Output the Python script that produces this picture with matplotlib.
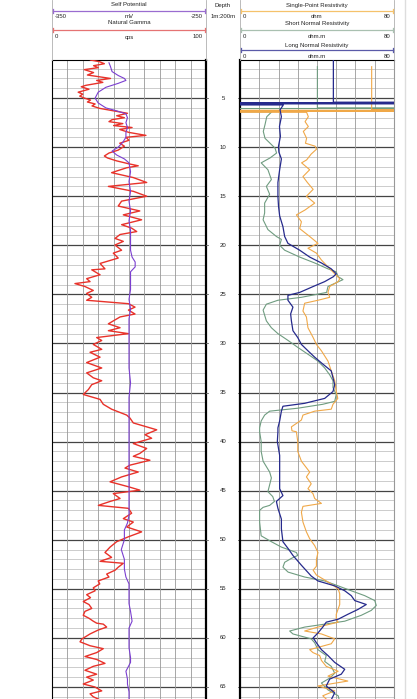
import numpy as np
import matplotlib
matplotlib.use("Agg")
from matplotlib import pyplot as plt
from matplotlib.lines import Line2D

plt.rcParams['font.family'] = ['Liberation Sans', 'DejaVu Sans']

W, H = 417, 699

# depth range shown (m)
top_depth, bottom_depth = 1.12, 66.33
depth_ticks = [5, 10, 15, 20, 25, 30, 35, 40, 45, 50, 55, 60, 65]

# Natural gamma (depth m, cps)
gamma = [(1.12, 25), (1.3, 31), (1.5, 34), (1.7, 27), (1.9, 30), (2.1, 21), (2.4, 27), (2.65, 23),
         (3.0, 38), (3.2, 29), (3.4, 33), (3.7, 22), (3.85, 19), (4.1, 24), (4.4, 17), (4.6, 20),
         (4.8, 18), (5.0, 21), (5.2, 25), (5.4, 23), (5.6, 28), (5.8, 26), (6.05, 31), (6.3, 40),
         (6.55, 49), (6.8, 42), (7.0, 47), (7.2, 39), (7.4, 37), (7.6, 46), (7.8, 40), (8.0, 52),
         (8.2, 44), (8.5, 50), (8.8, 61), (9.0, 48), (9.3, 50), (9.6, 44), (9.9, 47), (10.3, 43),
         (10.6, 37), (10.9, 34), (11.1, 36), (11.4, 42), (11.7, 50), (11.9, 56), (12.1, 48.5),
         (12.6, 38.7), (13.1, 52.8), (13.6, 61.5), (14.0, 36.6), (14.5, 52.8), (15.0, 61.5),
         (15.5, 45.2), (16.0, 43), (16.5, 57), (16.9, 46.3), (17.4, 58.2), (17.9, 45.2),
         (18.25, 51.7), (18.6, 55), (18.9, 44.2), (19.3, 40.9), (19.6, 46.3), (19.97, 40.9),
         (20.5, 45.2), (20.8, 39.8), (21.3, 43), (21.85, 31.2), (22.4, 34.4), (22.5, 25.8),
         (23.0, 31.2), (23.4, 22.5), (23.7, 24.7), (23.9, 14.9), (24.2, 21.4), (24.6, 26.8),
         (24.9, 22.5), (25.3, 25.8), (25.6, 22.5), (25.95, 49.6), (26.3, 53.9), (26.6, 49.6),
         (27.0, 53.9), (27.3, 44.2), (27.7, 39.8), (28.0, 36.6), (28.4, 44.2), (28.7, 36.6),
         (29.0, 49.6), (29.4, 29), (29.7, 32.3), (30.1, 26.8), (30.6, 32.3), (30.9, 24.7),
         (31.4, 31.2), (31.95, 22.5), (32.5, 32.3), (33.0, 22.5), (33.5, 26.8), (33.8, 32.3),
         (34.2, 25.8), (34.7, 23.6), (35.2, 20.3), (35.7, 31.2), (36.2, 33.3), (36.7, 38.7),
         (37.3, 48.5), (37.6, 50.6), (38.1, 52.8), (38.8, 68), (39.3, 60.4), (39.66, 64.7),
         (40.2, 52.8), (40.7, 61.5), (41.2, 57.1), (41.5, 52.8), (41.9, 63.6), (42.4, 50.6),
         (42.7, 47.4), (43.1, 56), (43.6, 45.2), (44.1, 37.7), (44.6, 49.6), (44.95, 57.1),
         (45.3, 39.8), (45.8, 44.2), (46.1, 37.7), (46.5, 30.1), (46.8, 49.6), (47.3, 51.7),
         (47.85, 46.3), (48.2, 52.8), (48.7, 48.5), (49.2, 58.2), (49.7, 49.6), (50.2, 42),
         (50.75, 37.7), (51.3, 34.4), (51.8, 38.7), (52.2, 31.2), (52.4, 46.3), (52.8, 43),
         (53.1, 41), (53.5, 35.5), (53.8, 37), (54.2, 30), (54.5, 31), (54.9, 26.8), (55.2, 28),
         (55.6, 22.5), (55.9, 25), (56.3, 20.3), (56.6, 24), (57.0, 25.8), (57.3, 21.4),
         (57.7, 20.3), (58.0, 24), (58.3, 26.8), (58.5, 29), (58.6, 33.3), (58.9, 35.5),
         (59.2, 30), (59.6, 24.7), (60.1, 19.5), (60.4, 18.2), (60.8, 24.7), (61.1, 33.3),
         (61.5, 29), (61.9, 21.4), (62.2, 29), (62.6, 34.4), (62.9, 26.8), (63.3, 21.4),
         (63.7, 29), (64.0, 22.5), (64.3, 26.8), (64.7, 20.3), (65.0, 27.8), (65.4, 32.3),
         (65.7, 24.7), (66.0, 26.8), (66.4, 32.3)]

# Self potential (depth m, mV)
self_potential = [(1.4, -313), (1.8, -312), (2.3, -311), (2.7, -307), (3.0, -303), (3.2, -302),
                  (3.5, -307), (3.9, -315), (4.4, -320), (5.0, -322), (5.5, -320), (6.0, -315),
                  (6.3, -308), (6.6, -302), (7.0, -301), (7.5, -302), (8.0, -301), (8.5, -302),
                  (9.0, -302), (9.5, -304), (10.0, -307), (10.4, -311), (10.8, -308), (11.2, -303),
                  (11.6, -300), (12.5, -299), (13.5, -300), (14.5, -299), (15.5, -300), (16.5, -299),
                  (17.5, -300), (18.5, -299), (19.5, -299), (20.5, -299), (21.2, -298), (21.7, -296),
                  (22.2, -296), (22.7, -299), (23.5, -299), (24.5, -299), (25.5, -300), (26.5, -299),
                  (27.5, -300), (28.5, -300), (29.5, -300), (31, -300), (32.5, -300), (34, -299),
                  (35.5, -300), (37, -300), (38.5, -300), (40, -300), (41.5, -300), (43, -300),
                  (44.5, -300), (46, -300), (47.5, -300), (48.3, -301), (49, -303), (50, -303),
                  (51, -305), (52, -303), (53, -303), (53.8, -302), (54.5, -300), (55.5, -300),
                  (56.5, -300), (57.3, -299), (58.3, -298), (59, -300), (60, -300), (61, -300),
                  (62, -299), (62.5, -299), (63.4, -302), (64.2, -301), (64.7, -301), (65.5, -300),
                  (66.3, -300)]

# Single-point resistivity (depth m, ohm); the +/-1000 values are the off-scale spikes near the top
single_point = [(1.8, 68.4), (6.2, 68.4), (6.22, 1000), (6.27, -1000), (6.32, 1000), (6.37, -1000),
                (6.45, 34.6), (6.9, 35.5), (7.4, 33.8), (7.9, 35.5), (8.4, 32.9), (9.1, 34.6),
                (9.6, 34), (9.9, 39), (10.2, 39.8), (10.7, 37), (11.3, 34.6), (11.6, 32), (12.3, 36.2),
                (13, 32.7), (13.6, 35), (14.3, 38), (15, 34.5), (15.7, 38.8), (16.4, 33.8), (16.9, 29.3),
                (17.6, 31.9), (18.3, 31), (19.1, 36.2), (19.8, 40.5), (20.3, 35.3), (20.8, 39.7),
                (21.5, 42.3), (22.2, 45.7), (22.9, 49.2), (23.4, 51.8), (23.7, 51), (24.2, 46.6),
                (24.8, 45.7), (25.3, 46.6), (25.6, 40.5), (25.9, 33.6), (26.7, 32.7), (27.3, 34.5),
                (28.4, 35.3), (29.4, 38), (30.1, 39.7), (30.75, 42.3), (31.8, 45.7), (32.8, 47.4),
                (33.8, 49.2), (34.9, 50), (35.6, 50.8), (36.2, 48.3), (36.7, 47.4), (36.9, 38.8),
                (37.3, 32.7), (37.8, 31.9), (38.5, 26.7), (38.9, 27), (39, 29.3), (40, 30), (41, 30),
                (42, 31.9), (43.1, 36.2), (43.6, 34.5), (44.3, 37), (44.8, 35.3), (45.3, 37.9),
                (45.8, 38.8), (46.3, 42.3), (46.6, 32.7), (47.2, 31.9), (48.2, 32.7), (49.2, 34.5),
                (49.9, 36.2), (50.6, 38.8), (51.3, 40.5), (52, 39.7), (52.7, 39.7), (53.1, 38),
                (53.6, 39.7), (54.3, 45.7), (55, 51), (55.5, 51.8), (56.6, 51.8), (57.6, 50), (58.1, 50),
                (58.4, 51), (58.9, 40.5), (59.3, 33.6), (59.6, 42.3), (60.1, 49.2), (60.6, 47.4),
                (61.2, 36.2), (61.5, 37.9), (61.8, 41.4), (62.3, 42.3), (62.9, 44.8), (63.4, 51),
                (63.9, 45.7), (64.4, 56), (64.9, 40.5), (65.4, 49.2), (65.9, 43), (66.4, 45.7)]

# Short normal resistivity (depth m, ohm.m)
short_normal = [(1.8, 40.2), (6.0, 40.2), (6.03, 1000), (6.1, -1000), (6.4, 16.5), (6.9, 13.9),
                (7.7, 13), (8.4, 12.1), (9.1, 13), (9.6, 15.6), (10.1, 18.2), (10.6, 19), (11.1, 15.6),
                (11.6, 11), (12.3, 14.5), (13.3, 16.3), (14, 13.7), (14.8, 15.4), (15.7, 12.8),
                (16.7, 12.8), (17.4, 12), (18.4, 14.5), (19.1, 18.9), (19.4, 21.5), (20, 20.6),
                (20.5, 23.2), (21.2, 31), (21.8, 38.8), (22.4, 45.7), (22.7, 50), (23.2, 51),
                (23.5, 53.5), (23.9, 49), (24.2, 45.7), (24.8, 45), (25.3, 31.9), (25.6, 19.7),
                (26, 13.7), (26.6, 12), (27.7, 13.7), (28.4, 16.3), (29, 19.7), (29.7, 25), (30.4, 30),
                (31.1, 35.3), (31.8, 40.5), (32.5, 44), (33.2, 46.6), (33.8, 48.3), (34.5, 48.3),
                (35.2, 50), (35.9, 49.2), (36.2, 43), (36.6, 30), (36.9, 15.4), (37.3, 12.8),
                (37.9, 11), (38.6, 10.2), (39, 10.2), (40, 11), (41, 11), (42, 12), (43.1, 15.4),
                (43.7, 16.3), (44.4, 15.4), (45.1, 14.5), (45.6, 17), (46.1, 17.9), (46.5, 15.4),
                (46.7, 12), (47, 10.2), (48.2, 10.2), (49.6, 11), (50.2, 16.3), (50.75, 21.5),
                (51.3, 29.3), (51.6, 30), (51.9, 26.7), (52.3, 23.2), (52.8, 22.3), (53.3, 25),
                (53.8, 33.6), (54.2, 44), (54.7, 51), (55.2, 57.8), (55.7, 64.8), (56.2, 70),
                (56.7, 70.8), (57.2, 68.2), (57.7, 63), (58.3, 54.4), (58.6, 44), (58.9, 33.6),
                (59.3, 25.8), (59.6, 27.5), (60.1, 37), (60.5, 38.8), (61.2, 40.5), (61.8, 44.8),
                (62.4, 44), (62.9, 47.4), (63.6, 49.2), (64.1, 46.6), (64.6, 42.3), (65.3, 45.7),
                (65.9, 51), (66.5, 51.8)]

# Long normal resistivity (depth m, ohm.m)
long_normal = [(1.12, 48.5), (5.42, 48.5), (5.44, 1000), (5.5, -1000), (5.56, 1000), (5.62, -1000),
               (5.7, 22.5), (6.2, 20.8), (6.9, 21.5), (7.9, 20.5), (8.9, 21), (9.9, 20), (10.5, 20.2),
               (11.2, 21.5), (12.3, 20.6), (13.6, 19.7), (15, 19.7), (16, 20), (17, 20.6), (18.1, 22.3),
               (19.1, 23.2), (19.8, 24.9), (20.5, 31), (21.2, 36.2), (21.8, 42.3), (22.4, 47.4),
               (22.9, 50), (23.2, 48.5), (23.7, 44), (24.2, 38), (24.8, 31), (25.1, 24.9), (25.6, 24.9),
               (26.3, 27.5), (27, 26.3), (27.7, 26.7), (28.7, 27.5), (29.4, 30), (30.1, 31.9),
               (30.75, 35.3), (31.4, 38.8), (32.1, 43), (32.8, 47.4), (33.5, 48.3), (34.2, 49.2),
               (34.9, 48.3), (35.6, 44), (36.1, 33.6), (36.4, 22.3), (36.9, 21.5), (37.9, 20.6),
               (38.6, 19.7), (39, 19.7), (40, 19.4), (41.4, 20.6), (43.1, 20.6), (44.8, 20.6),
               (45.5, 22.3), (46.1, 18.9), (46.8, 19.7), (47.9, 21.5), (48.9, 21.5), (50.2, 22.3),
               (50.9, 25), (51.6, 27.5), (52.6, 31.9), (53.7, 37), (54.2, 40.5), (54.7, 49.2),
               (55.2, 54.4), (55.7, 57.8), (56.2, 59.6), (56.6, 65.6), (57.1, 61.3), (57.6, 56),
               (58.1, 51), (58.4, 44.8), (58.9, 43), (59.5, 40.5), (60, 38), (60.5, 39.7), (61.2, 42.3),
               (61.8, 45.7), (62.5, 49.2), (63.2, 54.4), (63.7, 52.6), (64.2, 46.6), (64.9, 44.8),
               (65.6, 49.2), (66.3, 47.4)]


def px_axes(fig, x0, y0, x1, y1):
  # axes placed by pixel box (top-left origin)
  return fig.add_axes([x0 / W, 1 - y1 / H, (x1 - x0) / W, (y1 - y0) / H])


def fig_text(fig, x, y, s, ha='center', size=4.3):
  fig.text(x / W, 1 - y / H, s, ha=ha, va='center', fontsize=size, color='#222222')


def header_line(fig, x0, x1, y, color):
  fig.add_artist(Line2D([x0 / W, x1 / W], [1 - y / H, 1 - y / H], color=color, lw=0.9))
  for xx in (x0, x1):
    fig.add_artist(Line2D([xx / W, xx / W], [1 - (y - 2) / H, 1 - (y + 2) / H], color=color, lw=0.9))


def track_grid(ax, xticks):
  for d in range(2, 67):
    major = d % 5 == 0
    ax.axhline(d, color='#444444' if major else '#c4c4c4', lw=0.9 if major else 0.6, zorder=1)
  for x in xticks:
    ax.axvline(x, color='#999999', lw=0.6, zorder=1)
  ax.set_ylim(bottom_depth, top_depth)
  ax.set_xticks([])
  ax.set_yticks([])
  ax.spines['bottom'].set_visible(False)


fig = plt.figure(figsize=(W / 100, H / 100), dpi=100)

# left track: gamma + SP
axL = px_axes(fig, 52, 60, 206, 700)
track_grid(axL, range(0, 101, 10))
axL.set_xlim(0, 100)
axL.spines['right'].set_linewidth(1.6)
g = np.array(gamma)
axL.plot(g[:, 1], g[:, 0], color='#e8322a', lw=1.0, zorder=3)
axSP = axL.twiny()
axSP.set_xlim(-350, -250)
axSP.set_ylim(bottom_depth, top_depth)
axSP.set_xticks([])
axSP.axis('off')
sp = np.array(self_potential)
axSP.plot(sp[:, 1], sp[:, 0], color='#7b3fd0', lw=0.8, zorder=4)

# depth track
axD = px_axes(fig, 206, 60, 240, 700)
axD.set_ylim(bottom_depth, top_depth)
axD.set_xlim(0, 1)
axD.axis('off')
for d in depth_ticks:
  axD.text(0.5, d, str(d), ha='center', va='center', fontsize=4.3, color='#222222')
  axD.plot([0.0, 0.07], [d, d], color='#666666', lw=0.6)
  axD.plot([0.93, 1.0], [d, d], color='#666666', lw=0.6)

# right track: resistivities
axR = px_axes(fig, 240, 60, 394, 700)
track_grid(axR, range(0, 81, 10))
axR.set_xlim(0, 80)
axR.spines['left'].set_linewidth(1.6)
axR.spines['right'].set_color('#999999')
sn = np.array(short_normal)
axR.plot(sn[:, 1], sn[:, 0], color='#6f9c80', lw=0.8, zorder=3)
spr = np.array(single_point)
axR.plot(spr[:, 1], spr[:, 0], color='#f0a848', lw=0.8, zorder=3)
ln = np.array(long_normal)
axR.plot(ln[:, 1], ln[:, 0], color='#262a8c', lw=0.9, zorder=4)

# header: only vertical separators, no box top
for xx in (52, 206, 240, 394):
  fig.add_artist(Line2D([xx / W, xx / W], [1 - 60 / H, 1.0], color='#b0b0b0', lw=0.6))
fig_text(fig, 129, 5, 'Self Potential')
header_line(fig, 53, 205, 11, '#9a6cd0')
fig_text(fig, 55, 16, '-350', ha='left')
fig_text(fig, 129, 16, 'mV')
fig_text(fig, 203, 16, '-250', ha='right')
fig_text(fig, 129, 23, 'Natural Gamma')
header_line(fig, 53, 205, 30, '#e57373')
fig_text(fig, 55, 37, '0', ha='left')
fig_text(fig, 129, 37, 'cps')
fig_text(fig, 203, 37, '100', ha='right')

fig_text(fig, 223, 5, 'Depth')
fig_text(fig, 223, 16, '1m:200m')

fig_text(fig, 317, 5, 'Single-Point Resistivity')
header_line(fig, 241, 393, 11, '#f5c26b')
fig_text(fig, 243, 16, '0', ha='left')
fig_text(fig, 317, 16, 'ohm')
fig_text(fig, 391, 16, '80', ha='right')
fig_text(fig, 317, 23, 'Short Normal Resistivity')
header_line(fig, 241, 393, 30, '#a9c0b0')
fig_text(fig, 243, 37, '0', ha='left')
fig_text(fig, 317, 37, 'ohm.m')
fig_text(fig, 391, 37, '80', ha='right')
fig_text(fig, 317, 45, 'Long Normal Resistivity')
header_line(fig, 241, 393, 50, '#5a5aa8')
fig_text(fig, 243, 57, '0', ha='left')
fig_text(fig, 317, 57, 'ohm.m')
fig_text(fig, 391, 57, '80', ha='right')

# faint page edge on the right
fig.add_artist(Line2D([405 / W, 405 / W], [0, 1], color='#dddddd', lw=1.0))

fig.savefig("out.png", dpi=100)
